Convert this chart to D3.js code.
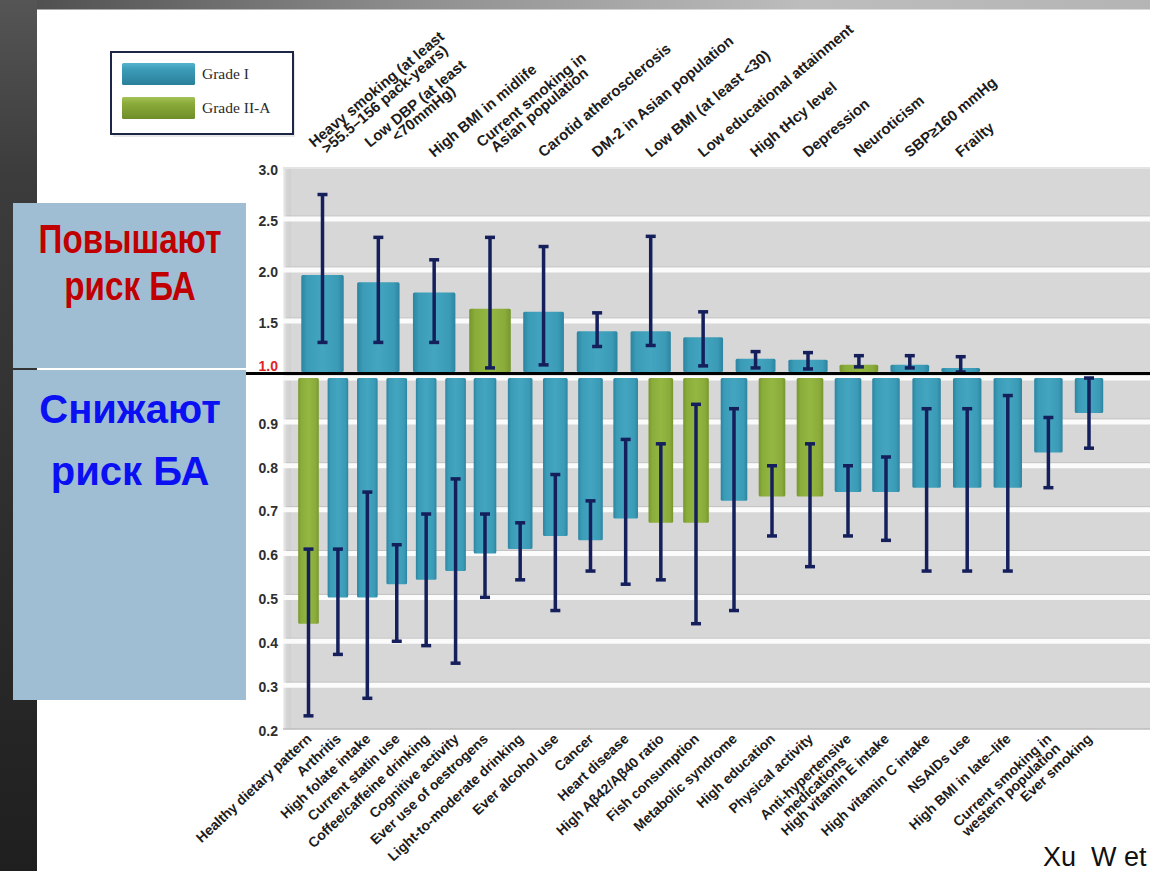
<!DOCTYPE html>
<html>
<head>
<meta charset="utf-8">
<script src="https://cdn.jsdelivr.net/npm/d3@7"></script>
<style>
  html, body { margin: 0; padding: 0; background: #ffffff; }
  svg { display: block; }
</style>
</head>
<body>
<svg id="chart" width="1150" height="871"></svg>
<script>
// ---- Factors that raise the risk (RR > 1) ----
const upFactors = [
  ["Heavy smoking (at least", ">55.5–156 pack-years)"],
  ["Low DBP (at least", "<70mmHg)"],
  ["High BMI in midlife"],
  ["Current smoking in", "Asian population"],
  ["Carotid atherosclerosis"],
  ["DM-2 in Asian population"],
  ["Low BMI (at least <30)"],
  ["Low educational attainment"],
  ["High tHcy level"],
  ["Depression"],
  ["Neuroticism"],
  ["SBP≥160 mmHg"],
  ["Frailty"]
];
const upRR    = [1.95, 1.88, 1.78, 1.62, 1.59, 1.40, 1.40, 1.34, 1.13, 1.12, 1.07, 1.07, 1.04];
const upLow   = [1.29, 1.29, 1.29, 1.04, 1.07, 1.25, 1.26, 1.06, 1.04, 1.03, 1.05, 1.04, 1.00];
const upHigh  = [2.74, 2.32, 2.10, 2.32, 2.23, 1.58, 2.33, 1.59, 1.20, 1.19, 1.16, 1.16, 1.15];
const upGrade = ["I", "I", "I", "II-A", "I", "I", "I", "I", "I", "I", "II-A", "I", "I"];

// ---- Factors that lower the risk (RR < 1) ----
const downFactors = [
  ["Healthy dietary pattern"],
  ["Arthritis"],
  ["High folate intake"],
  ["Current statin use"],
  ["Coffee/caffeine drinking"],
  ["Cognitive activity"],
  ["Ever use of oestrogens"],
  ["Light-to-moderate drinking"],
  ["Ever alcohol use"],
  ["Cancer"],
  ["Heart disease"],
  ["High Aβ42/Aβ40 ratio"],
  ["Fish consumption"],
  ["Metabolic syndrome"],
  ["High education"],
  ["Physical activity"],
  ["Anti-hypertensive", "medications"],
  ["High vitamin E intake"],
  ["High vitamin C intake"],
  ["NSAIDs use"],
  ["High BMI in late–life"],
  ["Current smoking in", "western population"],
  ["Ever smoking"]
];
const downRR    = [0.44, 0.50, 0.50, 0.53, 0.54, 0.56, 0.60, 0.61, 0.64, 0.63, 0.68, 0.67, 0.67,
                   0.72, 0.73, 0.73, 0.74, 0.74, 0.75, 0.75, 0.75, 0.83, 0.92];
const downLow   = [0.23, 0.37, 0.27, 0.40, 0.39, 0.35, 0.50, 0.54, 0.47, 0.56, 0.53, 0.54, 0.44,
                   0.47, 0.64, 0.57, 0.64, 0.63, 0.56, 0.56, 0.56, 0.75, 0.84];
const downHigh  = [0.61, 0.61, 0.74, 0.62, 0.69, 0.77, 0.69, 0.67, 0.78, 0.72, 0.86, 0.85, 0.94,
                   0.93, 0.80, 0.85, 0.80, 0.82, 0.93, 0.93, 0.96, 0.91, 1.00];
const downGrade = ["II-A", "I", "I", "I", "I", "I", "I", "I", "I", "I", "I", "II-A", "II-A",
                   "I", "II-A", "II-A", "I", "I", "I", "I", "I", "I", "I"];

// ---- Axis ticks and legend ----
const upTicks   = [3.0, 2.5, 2.0, 1.5, 1.0];
const downTicks = [0.9, 0.8, 0.7, 0.6, 0.5, 0.4, 0.3, 0.2];
const upGrid    = [2.5, 2.0, 1.5];
const downGrid  = [1.0, 0.9, 0.8, 0.7, 0.6, 0.5, 0.4, 0.3];
const grades    = ["I", "II-A"];
const gradeNames = ["Grade I", "Grade II-A"];

const svg = d3.select("#chart");
const W = 1150, H = 871;

// ---------- gradients ----------
const defs = svg.append("defs");
function hGrad(id, stops) {
  const g = defs.append("linearGradient").attr("id", id)
    .attr("x1", "0%").attr("x2", "100%").attr("y1", "0%").attr("y2", "0%");
  stops.forEach(([o, c]) => g.append("stop").attr("offset", o).attr("stop-color", c));
}
function vGrad(id, stops) {
  const g = defs.append("linearGradient").attr("id", id)
    .attr("x1", "0%").attr("x2", "0%").attr("y1", "0%").attr("y2", "100%");
  stops.forEach(([o, c]) => g.append("stop").attr("offset", o).attr("stop-color", c));
}
hGrad("gradI",  [["0%", "#2c84a0"], ["14%", "#3b9cb8"], ["50%", "#43a5c0"], ["86%", "#3b9bb6"], ["100%", "#2c84a0"]]);
hGrad("gradII", [["0%", "#76962c"], ["14%", "#8aac3a"], ["50%", "#94b742"], ["86%", "#8aab3a"], ["100%", "#76962c"]]);
vGrad("legI",  [["0%", "#55b3cc"], ["30%", "#3b9cb8"], ["100%", "#2a7f9a"]]);
vGrad("legII", [["0%", "#a5c358"], ["30%", "#8aac3a"], ["100%", "#6f8d28"]]);
hGrad("topBand", [["0%", "#4a4a4a"], ["35%", "#8d8d8d"], ["70%", "#bdbdbd"], ["100%", "#b4b4b4"]]);
vGrad("leftBand", [["0%", "#555555"], ["20%", "#3c3c3c"], ["100%", "#1f1f1f"]]);
hGrad("wall", [["0%", "#f2f2f2"], ["40%", "#d6d6d6"], ["100%", "#cfcfcf"]]);
const fillFor = g => g === "I" ? "url(#gradI)" : "url(#gradII)";

// ---------- slide frame ----------
svg.append("rect").attr("x", 0).attr("y", 0).attr("width", W).attr("height", H).attr("fill", "#ffffff");
svg.append("rect").attr("x", 0).attr("y", 0).attr("width", W).attr("height", 9.5).attr("fill", "url(#topBand)");
svg.append("rect").attr("x", 0).attr("y", 0).attr("width", 37).attr("height", H).attr("fill", "url(#leftBand)");

// ---------- scales ----------
const plotL = 283, plotR = W;
const yUp = d3.scaleLinear().domain([1, 3]).range([372, 168]);
const yLo = d3.scaleLinear().domain([0.2, 1.0]).range([729, 378]);
// bar slots widen gradually from left to right
const xUp = d3.scaleLinear().domain([0, 3, 6, 9, 12]).range([322.5, 490, 650.7, 808, 960.7]);
const xLo = d3.scaleLinear().domain([0, 6, 12, 17, 22]).range([308.5, 485, 696, 886, 1089]);
const slot = (sc, i) => sc(i + 0.5) - sc(i - 0.5);

// ---------- plot panels ----------
const panel = svg.append("g");
panel.append("rect").attr("x", plotL).attr("y", yUp(3)).attr("width", plotR - plotL)
  .attr("height", yUp(1) - yUp(3)).attr("fill", "#d7d7d7");
panel.append("rect").attr("x", plotL).attr("y", yLo(1) - 3).attr("width", plotR - plotL)
  .attr("height", yLo(0.2) - yLo(1) + 3).attr("fill", "#d7d7d7");
panel.append("rect").attr("x", plotL).attr("y", yUp(3)).attr("width", 8)
  .attr("height", yLo(0.2) - yUp(3)).attr("fill", "url(#wall)");

function gridBands(g, sc, vals) {
  g.selectAll(null).data(vals).join("line")
    .attr("x1", plotL + 3).attr("x2", plotR)
    .attr("y1", d => sc(d) - 3).attr("y2", d => sc(d) - 3)
    .attr("stroke", "#c3c3c3").attr("stroke-width", 1);
  g.selectAll(null).data(vals).join("line")
    .attr("x1", plotL).attr("x2", plotR)
    .attr("y1", d => sc(d)).attr("y2", d => sc(d))
    .attr("stroke", "#fbfbfb").attr("stroke-width", 5);
}
gridBands(panel.append("g"), yUp, upGrid);
gridBands(panel.append("g"), yLo, downGrid);
// floor and top edges
panel.append("line").attr("x1", plotL).attr("x2", plotR)
  .attr("y1", yLo(0.2)).attr("y2", yLo(0.2)).attr("stroke", "#bdbdbd").attr("stroke-width", 1.5);
panel.append("line").attr("x1", plotL).attr("x2", plotR)
  .attr("y1", yUp(3)).attr("y2", yUp(3)).attr("stroke", "#e4e4e4").attr("stroke-width", 2);

// ---------- bars ----------
const upIdx = d3.range(upRR.length);
const loIdx = d3.range(downRR.length);

svg.append("g").selectAll("rect").data(upIdx).join("rect")
  .attr("x", i => xUp(i) - slot(xUp, i) * 0.38)
  .attr("width", i => slot(xUp, i) * 0.76)
  .attr("y", i => yUp(upRR[i]))
  .attr("height", i => yUp(1) - yUp(upRR[i]))
  .attr("rx", 1.5)
  .attr("fill", i => fillFor(upGrade[i]));

svg.append("g").selectAll("rect").data(loIdx).join("rect")
  .attr("x", i => xLo(i) - slot(xLo, i) * 0.35)
  .attr("width", i => slot(xLo, i) * 0.70)
  .attr("y", yLo(1))
  .attr("height", i => yLo(downRR[i]) - yLo(1))
  .attr("rx", 1.5)
  .attr("fill", i => fillFor(downGrade[i]));

// ---------- confidence intervals ----------
function whiskers(g, idx, xs, ys, lo, hi) {
  const ci = g.selectAll("g").data(idx).join("g").attr("stroke", "#141f5c").attr("stroke-width", 3.5);
  ci.append("line").attr("x1", i => xs(i)).attr("x2", i => xs(i))
    .attr("y1", i => ys(lo[i])).attr("y2", i => ys(hi[i]));
  ci.append("line").attr("x1", i => xs(i) - 5).attr("x2", i => xs(i) + 5)
    .attr("y1", i => ys(lo[i])).attr("y2", i => ys(lo[i]));
  ci.append("line").attr("x1", i => xs(i) - 5).attr("x2", i => xs(i) + 5)
    .attr("y1", i => ys(hi[i])).attr("y2", i => ys(hi[i]));
}
whiskers(svg.append("g"), upIdx, xUp, yUp, upLow, upHigh);
whiskers(svg.append("g"), loIdx, xLo, yLo, downLow, downHigh);

// ---------- RR = 1 reference line ----------
svg.append("line").attr("x1", 245).attr("x2", W).attr("y1", 373.5).attr("y2", 373.5)
  .attr("stroke", "#000000").attr("stroke-width", 3);

// ---------- y axes ----------
const tickFont = "'Liberation Sans', Arial, sans-serif";
function yAxis(sc, ticks) {
  const g = svg.append("g").attr("transform", "translate(278,0)")
    .call(d3.axisLeft(sc).tickValues(ticks).tickSize(0).tickPadding(0).tickFormat(d3.format(".1f")));
  g.select(".domain").remove();
  g.selectAll("text").attr("font-family", tickFont).attr("font-size", 14)
    .attr("font-weight", "bold").attr("fill", "#2e2e2e").attr("dy", "0.45em");
  return g;
}
const axUp = yAxis(yUp, upTicks);
yAxis(yLo, downTicks);
axUp.selectAll(".tick").filter(d => d === 1).select("text")
  .attr("fill", "#e02424").attr("dy", "-0.1em");

// ---------- factor labels ----------
const labFont = "'Liberation Sans', Arial, sans-serif";
const lh = 13;
function placeLines(g, lines, dir, size) {
  const t = g.selectAll("text").data(lines).join("text")
    .attr("font-family", labFont).attr("font-size", size).attr("font-weight", "bold")
    .attr("fill", "#1c1c1c").attr("text-anchor", "middle").text(d => d);
  let L = 0;
  t.each(function () { L = Math.max(L, this.getComputedTextLength()); });
  const n = lines.length;
  t.attr("x", dir > 0 ? L / 2 : -L / 2)
   .attr("y", (d, k) => dir > 0 ? -(n - 1 - k) * lh : k * lh);
}
svg.append("g").selectAll("g").data(upIdx).join("g")
  .attr("transform", i => `translate(${xUp(i)},158) rotate(-40)`)
  .each(function (i) { placeLines(d3.select(this), upFactors[i], 1, 15); });
svg.append("g").selectAll("g").data(loIdx).join("g")
  .attr("transform", i => `translate(${xLo(i) + 4},740) rotate(-43)`)
  .each(function (i) { placeLines(d3.select(this), downFactors[i], -1, 14); });

// ---------- legend ----------
const leg = svg.append("g");
leg.append("rect").attr("x", 113).attr("y", 54).attr("width", 182).attr("height", 83)
  .attr("fill", "#d9d9d9").attr("opacity", 0.6);
leg.append("rect").attr("x", 111).attr("y", 52).attr("width", 182).attr("height", 82)
  .attr("fill", "#ffffff").attr("stroke", "#1e2647").attr("stroke-width", 2);
const legY = d3.scalePoint().domain(grades).range([63, 97]);
leg.selectAll("rect.sw").data(grades).join("rect").attr("class", "sw")
  .attr("x", 122).attr("y", d => legY(d)).attr("width", 73).attr("height", 22).attr("rx", 1.5)
  .attr("fill", d => d === "I" ? "url(#legI)" : "url(#legII)");
leg.selectAll("text").data(grades).join("text")
  .attr("x", 202).attr("y", d => legY(d) + 16)
  .attr("font-family", "'Liberation Serif', 'Times New Roman', serif").attr("font-size", 15.5)
  .attr("fill", "#2a2a2a").text((d, k) => gradeNames[k]);

// ---------- side captions ----------
const cap = svg.append("g");
cap.append("rect").attr("x", 13).attr("y", 203).attr("width", 233).attr("height", 165).attr("fill", "#a0bed3");
cap.append("rect").attr("x", 13).attr("y", 370).attr("width", 233).attr("height", 330).attr("fill", "#a0bed3");
const capFont = "'Liberation Sans', Arial, sans-serif";
const capText = [
  { t: "Повышают", y: 253, c: "#c00000", sx: 0.83 },
  { t: "риск БА",  y: 300, c: "#c00000", sx: 0.83 },
  { t: "Снижают",  y: 423, c: "#0a10f2", sx: 1 },
  { t: "риск БА",  y: 485, c: "#0a10f2", sx: 1 }
];
cap.selectAll("text").data(capText).join("text")
  .attr("transform", d => `translate(130,${d.y}) scale(${d.sx},1)`)
  .attr("text-anchor", "middle")
  .attr("font-family", capFont).attr("font-weight", "bold")
  .attr("font-size", 40).attr("fill", d => d.c).text(d => d.t);

// ---------- source ----------
svg.append("text").attr("x", 1043).attr("y", 866)
  .attr("font-family", capFont).attr("font-size", 27).attr("fill", "#111111")
  .attr("xml:space", "preserve").text("Xu  W et");
</script>
</body>
</html>
